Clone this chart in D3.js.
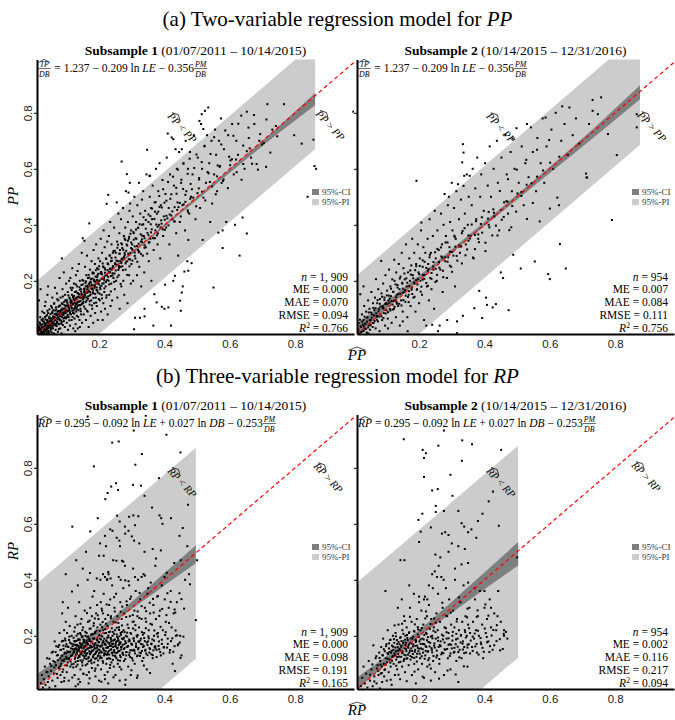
<!DOCTYPE html>
<html>
<head>
<meta charset="utf-8">
<script src="https://cdn.jsdelivr.net/npm/d3@7"></script>
<style>
body { margin: 0; background: #fff; }
svg { display: block; font-family: "Liberation Serif", "Times New Roman", serif; }
svg text { white-space: pre; }
</style>
</head>
<body>
<script>

var ppSub1 = [
[0.012,0.015],[0.015,0.04],[0.018,0.022],[0.02,0.07],[0.022,0.012],[0.024,0.035],[0.026,0.09],[0.028,0.018],[0.03,0.055],[0.031,0.028],[0.033,0.012],[0.034,0.11],[0.035,0.045],[0.037,0.02],[0.038,0.075],[0.039,0.032],[0.04,0.014],[0.041,0.06],[0.042,0.15],[0.043,0.038],[0.044,0.085],[0.045,0.022],[0.046,0.05],[0.047,0.012],[0.048,0.098],[0.049,0.033],[0.016,0.13],[0.021,0.17],[0.029,0.065],[0.036,0.125],[0.044,0.18],[0.027,0.045],[0.019,0.028],[0.041,0.025],[0.032,0.085],
[0.051,0.02],[0.052,0.065],[0.053,0.11],[0.054,0.04],[0.055,0.015],[0.056,0.085],[0.057,0.14],[0.058,0.05],[0.059,0.03],[0.06,0.095],[0.061,0.07],[0.062,0.012],[0.063,0.12],[0.064,0.045],[0.065,0.175],[0.066,0.06],[0.067,0.025],[0.068,0.105],[0.069,0.08],[0.07,0.038],[0.071,0.155],[0.072,0.055],[0.073,0.09],[0.074,0.018],[0.075,0.13],[0.076,0.068],[0.077,0.045],[0.078,0.11],[0.079,0.21],[0.08,0.075],[0.081,0.03],[0.082,0.14],[0.083,0.095],[0.084,0.058],[0.085,0.012],[0.086,0.12],[0.087,0.08],[0.088,0.17],[0.089,0.042],[0.09,0.1],[0.091,0.065],[0.092,0.23],[0.093,0.125],[0.094,0.085],[0.095,0.035],[0.096,0.15],[0.097,0.07],[0.098,0.11],[0.099,0.19],[0.086,0.28],
[0.101,0.05],[0.102,0.13],[0.103,0.09],[0.104,0.16],[0.105,0.025],[0.106,0.11],[0.107,0.07],[0.108,0.2],[0.109,0.14],[0.11,0.095],[0.111,0.04],[0.112,0.125],[0.113,0.175],[0.114,0.08],[0.115,0.105],[0.116,0.06],[0.117,0.15],[0.118,0.245],[0.119,0.115],[0.12,0.085],[0.121,0.03],[0.122,0.135],[0.123,0.19],[0.124,0.1],[0.125,0.065],[0.126,0.16],[0.127,0.12],[0.128,0.045],[0.129,0.22],[0.13,0.09],[0.131,0.14],[0.132,0.075],[0.133,0.18],[0.134,0.11],[0.135,0.03],[0.136,0.155],[0.137,0.095],[0.138,0.26],[0.139,0.125],[0.14,0.06],[0.141,0.2],[0.142,0.14],[0.143,0.1],[0.144,0.17],[0.145,0.08],[0.146,0.115],[0.147,0.3],[0.148,0.05],[0.149,0.15],[0.112,0.21],[0.127,0.02],[0.134,0.235],[0.141,0.035],[0.119,0.175],[0.146,0.185],
[0.151,0.12],[0.152,0.2],[0.153,0.08],[0.154,0.16],[0.155,0.343],[0.156,0.14],[0.157,0.25],[0.158,0.1],[0.159,0.18],[0.16,0.06],[0.161,0.22],[0.162,0.13],[0.163,0.29],[0.164,0.17],[0.165,0.09],[0.166,0.21],[0.167,0.145],[0.168,0.035],[0.169,0.19],[0.17,0.405],[0.171,0.115],[0.172,0.24],[0.173,0.16],[0.174,0.075],[0.175,0.205],[0.176,0.13],[0.177,0.27],[0.178,0.185],[0.179,0.1],[0.18,0.23],[0.181,0.155],[0.182,0.05],[0.183,0.31],[0.184,0.2],[0.185,0.12],[0.186,0.175],[0.187,0.26],[0.188,0.085],[0.189,0.215],[0.19,0.14],[0.191,0.33],[0.192,0.19],[0.193,0.11],[0.194,0.245],[0.195,0.165],[0.196,0.06],[0.197,0.225],[0.198,0.28],[0.199,0.135],[0.15,0.352],
[0.201,0.2],[0.202,0.13],[0.203,0.27],[0.204,0.17],[0.205,0.35],[0.206,0.09],[0.207,0.23],[0.208,0.15],[0.209,0.3],[0.21,0.19],[0.211,0.06],[0.212,0.25],[0.213,0.12],[0.214,0.38],[0.215,0.21],[0.216,0.16],[0.217,0.32],[0.218,0.1],[0.219,0.24],[0.22,0.18],[0.221,0.28],[0.222,0.14],[0.223,0.475],[0.224,0.22],[0.225,0.34],[0.226,0.08],[0.227,0.26],[0.228,0.507],[0.229,0.2],[0.23,0.36],[0.231,0.15],[0.232,0.29],[0.233,0.23],[0.234,0.41],[0.235,0.11],[0.236,0.27],[0.237,0.19],[0.238,0.33],[0.239,0.24],[0.24,0.13],[0.242,0.3],[0.244,0.21],[0.246,0.39],[0.248,0.17],[0.249,0.26],
[0.251,0.3],[0.252,0.2],[0.254,0.48],[0.255,0.34],[0.256,0.14],[0.258,0.27],[0.259,0.44],[0.26,0.22],[0.262,0.37],[0.263,0.1],[0.264,0.31],[0.266,0.25],[0.267,0.42],[0.268,0.18],[0.269,0.626],[0.27,0.33],[0.272,0.28],[0.273,0.46],[0.274,0.2],[0.276,0.36],[0.277,0.15],[0.278,0.3],[0.28,0.39],[0.281,0.24],[0.282,0.52],[0.284,0.33],[0.285,0.581],[0.286,0.27],[0.287,0.12],[0.288,0.41],[0.29,0.515],[0.291,0.35],[0.292,0.22],[0.293,0.45],[0.295,0.476],[0.296,0.3],[0.297,0.19],[0.298,0.38],[0.299,0.26],[0.294,0.55],
[0.301,0.33],[0.303,0.43],[0.304,0.2],[0.306,0.37],[0.307,0.027],[0.308,0.5],[0.31,0.068],[0.311,0.28],[0.313,0.41],[0.314,0.35],[0.316,0.22],[0.317,0.47],[0.319,0.31],[0.32,0.39],[0.322,0.55],[0.323,0.25],[0.325,0.068],[0.326,0.44],[0.328,0.34],[0.329,0.18],[0.331,0.49],[0.332,0.4],[0.334,0.29],[0.335,0.52],[0.337,0.36],[0.338,0.23],[0.339,0.1],[0.339,0.073],[0.341,0.45],[0.343,0.32],[0.345,0.58],[0.347,0.668],
[0.351,0.41],[0.352,0.27],[0.354,0.575],[0.355,0.5],[0.356,0.575],[0.357,0.35],[0.359,0.46],[0.36,0.2],[0.362,0.42],[0.364,0.54],[0.366,0.04],[0.367,0.31],[0.369,0.152],[0.37,0.48],[0.372,0.38],[0.374,0.6],[0.376,0.123],[0.377,0.44],[0.379,0.33],[0.381,0.52],[0.383,0.4],[0.385,0.62],[0.387,0.28],[0.389,0.47],[0.392,0.107],[0.394,0.56],[0.396,0.36],[0.398,0.43],
[0.4,0.1],[0.402,0.186],[0.403,0.51],[0.405,0.39],[0.407,0.64],[0.41,0.726],[0.412,0.105],[0.413,0.46],[0.415,0.33],[0.417,0.58],[0.42,0.04],[0.422,0.712],[0.424,0.42],[0.427,0.2],[0.427,0.706],[0.429,0.54],[0.432,0.218],[0.434,0.67],[0.436,0.37],[0.438,0.6],[0.44,0.48],[0.442,0.29],[0.445,0.66],[0.447,0.41],[0.448,0.129],
[0.45,0.093],[0.451,0.55],[0.453,0.158],[0.453,0.67],[0.455,0.47],[0.456,0.18],[0.458,0.62],[0.461,0.233],[0.463,0.38],[0.465,0.7],[0.467,0.52],[0.47,0.27],[0.472,0.6],[0.473,0.236],[0.473,0.346],[0.476,0.44],[0.478,0.66],[0.481,0.5],[0.483,0.263],[0.486,0.58],[0.49,0.72],[0.495,0.42],
[0.502,0.64],[0.505,0.53],[0.507,0.771],[0.509,0.46],[0.512,0.76],[0.514,0.795],[0.515,0.6],[0.517,0.346],[0.519,0.742],[0.522,0.68],[0.524,0.807],[0.527,0.55],[0.53,0.72],[0.534,0.819],[0.537,0.62],[0.54,0.41],[0.544,0.7],[0.546,0.476],
[0.55,0.176],[0.552,0.58],[0.555,0.74],[0.558,0.65],[0.561,0.52],[0.565,0.372],[0.567,0.7],[0.57,0.61],[0.573,0.78],[0.575,0.55],[0.578,0.317],[0.578,0.38],[0.582,0.67],[0.589,0.41],[0.595,0.72],
[0.602,0.63],[0.607,0.76],[0.612,0.58],[0.616,0.4],[0.62,0.7],[0.625,0.65],[0.63,0.29],[0.635,0.79],[0.639,0.426],[0.645,0.6],
[0.652,0.369],[0.652,0.804],[0.658,0.71],[0.665,0.64],[0.675,0.76],[0.682,0.617],[0.69,0.7],[0.711,0.607],[0.715,0.831],[0.73,0.74],[0.766,0.831],[0.797,0.72],
[0.838,0.5],[0.856,0.704],[0.859,0.61],[0.864,0.6],[0.978,0.804],[0.82,0.69],
[0.031,0.033],[0.046,0.053],[0.058,0.052],[0.071,0.078],[0.081,0.092],[0.091,0.083],[0.101,0.112],[0.106,0.093],[0.116,0.127],[0.124,0.133],[0.131,0.117],[0.139,0.152],[0.151,0.143],[0.156,0.172],[0.164,0.158],[0.171,0.183],[0.179,0.172],[0.186,0.198],[0.194,0.203],[0.2,0.187],[0.209,0.223],[0.216,0.202],[0.226,0.238],[0.234,0.243],[0.241,0.227],[0.249,0.263],[0.261,0.252],[0.269,0.278],[0.279,0.293],[0.291,0.277],[0.301,0.313],[0.309,0.323],[0.321,0.302],[0.331,0.348],[0.339,0.327],[0.351,0.363],[0.359,0.373],[0.371,0.352],[0.379,0.393],[0.391,0.404],[0.401,0.382],[0.409,0.423],[0.421,0.433],[0.431,0.412],[0.439,0.453],[0.459,0.473],[0.471,0.452],[0.479,0.493],[0.501,0.513],[0.519,0.497],[0.539,0.553],[0.561,0.573],[0.579,0.557],[0.601,0.613],[0.619,0.633],[0.641,0.617],[0.661,0.673],[0.699,0.687],[0.741,0.753]
];

// the dense core of subsample 1 along the diagonal
var ppSub1Core = [
[0.013,0.028],[0.017,0.011],[0.019,0.047],[0.023,0.019],[0.024,0.061],[0.026,0.033],[0.029,0.013],[0.032,0.052],[0.033,0.024],[0.035,0.071],[0.037,0.041],[0.04,0.029],[0.042,0.093],[0.043,0.054],[0.045,0.017],[0.047,0.066],[0.049,0.043],[0.051,0.081],[0.053,0.027],[0.054,0.058],[0.056,0.104],[0.057,0.036],[0.059,0.073],[0.061,0.049],[0.062,0.118],[0.064,0.082],[0.066,0.041],[0.067,0.067],[0.069,0.097],[0.071,0.053],[0.072,0.134],[0.074,0.076],[0.076,0.092],[0.077,0.028],[0.079,0.063],[0.081,0.112],[0.082,0.087],[0.084,0.047],[0.086,0.071],[0.087,0.101],[0.089,0.144],[0.091,0.078],[0.092,0.056],[0.094,0.113],[0.096,0.091],[0.097,0.131],[0.099,0.066],
[0.101,0.094],[0.103,0.121],[0.104,0.078],[0.106,0.148],[0.108,0.103],[0.109,0.059],[0.111,0.087],[0.113,0.132],[0.114,0.112],[0.116,0.167],[0.118,0.093],[0.119,0.071],[0.121,0.118],[0.123,0.146],[0.124,0.083],[0.126,0.104],[0.128,0.138],[0.129,0.187],[0.131,0.097],[0.133,0.122],[0.134,0.156],[0.136,0.071],[0.138,0.113],[0.139,0.143],[0.141,0.168],[0.143,0.128],[0.144,0.091],[0.146,0.152],[0.148,0.119],[0.149,0.203],
[0.151,0.134],[0.153,0.171],[0.154,0.108],[0.156,0.147],[0.158,0.192],[0.159,0.124],[0.161,0.157],[0.163,0.093],[0.164,0.183],[0.166,0.136],[0.168,0.221],[0.169,0.162],[0.171,0.127],[0.173,0.196],[0.174,0.151],[0.176,0.174],[0.178,0.112],[0.179,0.208],[0.181,0.168],[0.183,0.139],[0.184,0.227],[0.186,0.184],[0.188,0.153],[0.189,0.197],[0.191,0.122],[0.193,0.176],[0.194,0.213],[0.196,0.158],[0.198,0.241],[0.199,0.189],
[0.202,0.154],[0.204,0.226],[0.207,0.182],[0.209,0.137],[0.211,0.207],[0.213,0.251],[0.216,0.173],[0.218,0.229],[0.221,0.196],[0.223,0.148],[0.226,0.262],[0.228,0.214],[0.231,0.187],[0.233,0.243],[0.236,0.162],[0.238,0.282],[0.241,0.219],[0.243,0.253],[0.246,0.196],[0.248,0.307],
[0.251,0.237],[0.253,0.272],[0.256,0.213],[0.258,0.329],[0.261,0.246],[0.263,0.297],[0.266,0.189],[0.268,0.264],[0.271,0.317],[0.273,0.238],[0.276,0.286],[0.278,0.351],[0.281,0.262],[0.283,0.307],[0.286,0.221],[0.288,0.343],[0.291,0.293],[0.293,0.252],[0.296,0.368],[0.298,0.317],
[0.302,0.272],[0.306,0.347],[0.309,0.301],[0.313,0.383],[0.317,0.268],[0.321,0.332],[0.324,0.402],[0.328,0.296],[0.332,0.361],[0.336,0.427],[0.339,0.318],[0.343,0.386],[0.347,0.297],[0.351,0.437],[0.354,0.338],[0.358,0.402],[0.362,0.458],[0.366,0.353],[0.369,0.421],[0.373,0.481],[0.377,0.362],[0.381,0.447],[0.384,0.503],[0.388,0.391],[0.392,0.462],[0.396,0.527],
[0.401,0.418],[0.406,0.486],[0.411,0.553],[0.416,0.437],[0.421,0.509],[0.426,0.572],[0.431,0.463],[0.436,0.532],[0.441,0.597],[0.447,0.478],[0.452,0.561],[0.458,0.618],[0.464,0.507],[0.471,0.582],[0.477,0.636],[0.484,0.527],[0.491,0.603],[0.498,0.651],
[0.506,0.567],[0.514,0.624],[0.523,0.682],[0.532,0.588],[0.541,0.653],[0.552,0.713],[0.563,0.612],[0.574,0.687],[0.586,0.737],[0.598,0.643],[0.611,0.718],[0.626,0.761],[0.641,0.683],[0.657,0.747],[0.674,0.792],[0.693,0.724],[0.712,0.776],
[0.011,0.021],[0.014,0.009],[0.016,0.034],[0.018,0.052],[0.021,0.026],[0.022,0.043],[0.025,0.014],[0.027,0.057],[0.028,0.031],[0.031,0.018],[0.034,0.038],[0.036,0.062],[0.038,0.026],[0.039,0.049],[0.041,0.077],[0.044,0.031],[0.046,0.039],[0.048,0.071],[0.05,0.056],[0.052,0.033],[0.055,0.047],[0.057,0.089],[0.058,0.064],[0.06,0.041],[0.063,0.071],[0.065,0.058],[0.066,0.094],[0.068,0.046],[0.07,0.083],[0.073,0.064],[0.075,0.047],[0.076,0.107],[0.078,0.081],[0.08,0.059],[0.083,0.073],[0.085,0.096],[0.086,0.052],[0.088,0.117],[0.09,0.087],[0.093,0.068],[0.095,0.101],[0.098,0.084],
[0.1,0.127],[0.102,0.071],[0.105,0.112],[0.107,0.093],[0.11,0.137],[0.112,0.081],[0.115,0.121],[0.117,0.102],[0.12,0.142],[0.122,0.094],[0.125,0.131],[0.127,0.111],[0.13,0.162],[0.132,0.104],[0.135,0.143],[0.137,0.126],[0.14,0.177],[0.142,0.113],[0.145,0.161],[0.147,0.138],[0.15,0.187],[0.152,0.126],[0.155,0.164],[0.157,0.151],[0.16,0.198],[0.162,0.141],[0.165,0.178],[0.167,0.163],[0.17,0.211],[0.172,0.148],[0.175,0.193],[0.177,0.171],[0.18,0.226],[0.182,0.159],[0.185,0.204],[0.187,0.181],[0.19,0.238],[0.192,0.167],[0.195,0.219],[0.197,0.194],
[0.2,0.252],[0.203,0.176],[0.206,0.231],[0.208,0.207],[0.211,0.262],[0.214,0.191],[0.217,0.246],[0.219,0.218],[0.222,0.278],[0.225,0.203],[0.228,0.259],[0.23,0.231],[0.233,0.291],[0.236,0.217],[0.239,0.272],[0.241,0.247],[0.244,0.306],[0.247,0.226],[0.25,0.283],[0.253,0.258],[0.256,0.318],[0.259,0.239],[0.262,0.297],[0.265,0.271],[0.268,0.334],[0.271,0.252],[0.274,0.311],[0.277,0.283],[0.28,0.346],[0.283,0.268],[0.286,0.326],[0.289,0.297],[0.292,0.357],[0.295,0.276],[0.298,0.337],
[0.302,0.311],[0.305,0.374],[0.309,0.289],[0.312,0.352],[0.316,0.324],[0.319,0.389],[0.323,0.304],[0.327,0.366],[0.331,0.339],[0.335,0.402],[0.339,0.352],[0.343,0.417],[0.348,0.371],[0.352,0.336],[0.357,0.431],[0.361,0.384],[0.366,0.352],[0.371,0.447],[0.375,0.401],[0.38,0.369],[0.385,0.464],[0.39,0.416],[0.395,0.384],[0.4,0.479],[0.406,0.432],[0.412,0.398],[0.418,0.493],[0.424,0.448],[0.43,0.412],[0.437,0.511],[0.443,0.463],[0.45,0.43],[0.457,0.528],[0.464,0.482],[0.472,0.446],[0.48,0.546],[0.488,0.497],[0.497,0.466],
[0.506,0.562],[0.515,0.518],[0.525,0.487],[0.535,0.584],[0.546,0.537],[0.557,0.509],[0.569,0.607],[0.581,0.562],[0.594,0.531],[0.607,0.634],[0.621,0.588],[0.636,0.561],[0.652,0.663],[0.668,0.618],[0.686,0.597],[0.704,0.692],[0.724,0.658],[0.745,0.716]
];

var ppSub2 = [
[0.012,0.02],[0.015,0.05],[0.018,0.012],[0.02,0.152],[0.022,0.035],[0.025,0.08],[0.027,0.02],[0.03,0.06],[0.032,0.11],[0.034,0.03],[0.036,0.045],[0.038,0.09],[0.04,0.015],[0.042,0.07],[0.044,0.13],[0.046,0.04],[0.048,0.1],[0.05,0.025],[0.052,0.06],[0.054,0.16],[0.056,0.08],[0.058,0.035],[0.059,0.12],[0.03,0.18],[0.045,0.012],
[0.061,0.05],[0.063,0.095],[0.065,0.14],[0.067,0.03],[0.068,0.206],[0.07,0.075],[0.072,0.12],[0.074,0.055],[0.075,0.17],[0.077,0.1],[0.079,0.02],[0.08,0.135],[0.082,0.08],[0.084,0.271],[0.085,0.155],[0.087,0.06],[0.089,0.11],[0.09,0.19],[0.092,0.085],[0.094,0.14],[0.096,0.04],[0.097,0.22],[0.099,0.12],[0.1,0.095],[0.102,0.165],[0.104,0.065],[0.106,0.13],[0.108,0.24],[0.11,0.1],[0.112,0.18],[0.114,0.145],[0.116,0.05],[0.118,0.205],[0.119,0.115],[0.105,0.03],
[0.121,0.16],[0.123,0.1],[0.124,0.275],[0.125,0.2],[0.127,0.13],[0.129,0.07],[0.13,0.23],[0.132,0.15],[0.134,0.185],[0.136,0.11],[0.138,0.26],[0.14,0.17],[0.141,0.04],[0.143,0.215],[0.145,0.13],[0.147,0.3],[0.149,0.19],[0.15,0.09],[0.152,0.245],[0.154,0.16],[0.156,0.205],[0.158,0.125],[0.16,0.33],[0.162,0.18],[0.164,0.07],[0.166,0.23],[0.168,0.15],[0.17,0.28],[0.172,0.2],[0.174,0.11],[0.176,0.255],[0.178,0.175],[0.179,0.35],[0.165,0.02],[0.15,0.055],
[0.181,0.22],[0.183,0.14],[0.185,0.3],[0.187,0.19],[0.189,0.09],[0.191,0.26],[0.192,0.557],[0.194,0.17],[0.196,0.33],[0.198,0.23],[0.2,0.12],[0.202,0.28],[0.204,0.2],[0.206,0.38],[0.207,0.408],[0.209,0.15],[0.211,0.25],[0.213,0.32],[0.215,0.06],[0.217,0.22],[0.219,0.3],[0.222,0.04],[0.224,0.18],[0.226,0.35],[0.228,0.26],[0.23,0.13],[0.232,0.42],[0.234,0.21],[0.236,0.3],[0.238,0.17],[0.24,0.043],[0.242,0.36],[0.244,0.24],[0.246,0.1],[0.248,0.45],
[0.251,0.28],[0.254,0.2],[0.256,0.38],[0.258,0.02],[0.26,0.31],[0.263,0.04],[0.265,0.24],[0.267,0.44],[0.27,0.33],[0.272,0.16],[0.275,0.4],[0.278,0.51],[0.28,0.27],[0.282,0.36],[0.285,0.21],[0.286,0.06],[0.288,0.47],[0.291,0.5],[0.293,0.32],[0.295,0.41],[0.298,0.25],[0.3,0.55],[0.302,0.38],[0.305,0.29],[0.307,0.46],[0.31,0.18],[0.312,0.35],[0.314,0.52],[0.316,0.055],[0.316,0.013],
[0.319,0.545],[0.322,0.42],[0.325,0.3],[0.328,0.49],[0.331,0.37],[0.332,0.623],[0.334,0.075],[0.334,0.688],[0.336,0.539],[0.336,0.658],[0.338,0.575],[0.34,0.44],[0.343,0.33],[0.346,0.58],[0.349,0.4],[0.352,0.5],[0.355,0.575],[0.358,0.36],[0.361,0.47],[0.364,0.6],[0.367,0.28],[0.369,0.102],[0.372,0.53],[0.375,0.42],[0.378,0.64],[0.381,0.35],[0.384,0.164],[0.387,0.5],[0.39,0.58],[0.393,0.067],
[0.398,0.45],[0.402,0.62],[0.405,0.14],[0.408,0.114],[0.41,0.54],[0.413,0.4],[0.416,0.68],[0.42,0.5],[0.425,0.105],[0.428,0.6],[0.43,0.43],[0.435,0.117],[0.438,0.7],[0.441,0.55],[0.445,0.38],[0.45,0.23],[0.452,0.64],[0.457,0.21],[0.46,0.48],[0.464,0.72],[0.468,0.58],[0.472,0.44],[0.474,0.095],[0.476,0.381],[0.48,0.66],[0.484,0.52],[0.486,0.708],[0.488,0.293],[0.492,0.6],[0.498,0.745],
[0.505,0.55],[0.511,0.244],[0.514,0.68],[0.52,0.47],[0.525,0.62],[0.53,0.76],[0.535,0.57],[0.542,0.748],[0.548,0.66],[0.554,0.269],[0.558,0.52],[0.562,0.71],[0.569,0.412],[0.572,0.62],[0.578,0.78],[0.583,0.55],[0.587,0.783],[0.59,0.68],[0.595,0.224],[0.6,0.206],[0.6,0.458],[0.605,0.74],[0.61,0.6],[0.618,0.8],[0.623,0.497],[0.628,0.47],[0.631,0.331],[0.635,0.7],[0.638,0.823],[0.645,0.76],
[0.649,0.244],[0.655,0.65],[0.66,0.819],[0.67,0.72],[0.68,0.78],[0.69,0.69],[0.711,0.583],[0.712,0.569],[0.714,0.569],[0.72,0.76],[0.731,0.846],[0.731,0.807],[0.747,0.795],[0.757,0.855],[0.778,0.724],[0.79,0.417],[0.805,0.649],[0.866,0.795],[0.866,0.748],
[0.031,0.036],[0.051,0.044],[0.071,0.072],[0.091,0.101],[0.109,0.122],[0.131,0.124],[0.151,0.157],[0.169,0.163],[0.191,0.202],[0.211,0.204],[0.229,0.242],[0.251,0.243],[0.271,0.283],[0.289,0.284],[0.311,0.322],[0.329,0.323],[0.351,0.362],[0.371,0.364],[0.389,0.403],[0.411,0.422],[0.429,0.443],[0.451,0.453],[0.471,0.483],[0.501,0.512],[0.529,0.543],[0.561,0.572],[0.601,0.622],[0.629,0.643]
];

var ppSub2Core = [
[0.014,0.026],[0.019,0.061],[0.023,0.017],[0.028,0.043],[0.033,0.072],[0.037,0.028],[0.041,0.054],[0.046,0.087],[0.051,0.041],[0.055,0.068],[0.06,0.103],[0.064,0.057],[0.069,0.084],[0.073,0.131],[0.078,0.072],[0.082,0.108],[0.087,0.143],[0.091,0.067],[0.096,0.117],[0.101,0.148],[0.105,0.088],[0.11,0.137],[0.114,0.172],[0.119,0.097],[0.123,0.128],[0.128,0.187],[0.132,0.118],[0.137,0.153],[0.141,0.208],[0.146,0.112],[0.15,0.172],[0.155,0.226],[0.159,0.147],[0.164,0.193],[0.168,0.124],[0.173,0.237],[0.177,0.168],[0.182,0.209],[0.186,0.143],[0.191,0.252],[0.195,0.187],[0.2,0.224],[0.205,0.161],[0.211,0.273],[0.216,0.207],[0.222,0.246],[0.227,0.182],[0.233,0.293],[0.238,0.228],[0.244,0.267],[0.25,0.196],[0.256,0.314],[0.262,0.247],[0.268,0.287],[0.274,0.213],[0.281,0.337],[0.287,0.268],[0.294,0.304],[0.301,0.232],[0.308,0.361],[0.315,0.289],[0.323,0.327],[0.331,0.262],[0.339,0.388],[0.347,0.312],[0.356,0.351],[0.365,0.283],[0.374,0.413],[0.383,0.338],[0.393,0.372],[0.403,0.306],[0.413,0.446],[0.424,0.362],[0.435,0.397],[0.447,0.521],[0.459,0.428],[0.472,0.563],[0.485,0.467],[0.499,0.597],[0.513,0.503],[0.528,0.632],[0.544,0.548],[0.561,0.668],[0.579,0.594],[0.598,0.703],
[0.016,0.012],[0.021,0.038],[0.026,0.054],[0.031,0.022],[0.035,0.047],[0.04,0.068],[0.044,0.033],[0.049,0.059],[0.053,0.087],[0.058,0.049],[0.062,0.076],[0.067,0.102],[0.071,0.061],[0.076,0.091],[0.08,0.118],[0.085,0.073],[0.089,0.103],[0.094,0.131],[0.098,0.083],[0.103,0.116],[0.107,0.147],[0.112,0.094],[0.116,0.128],[0.121,0.161],[0.125,0.107],[0.13,0.141],[0.134,0.176],[0.139,0.118],[0.143,0.154],[0.148,0.193],[0.152,0.131],[0.157,0.167],[0.161,0.209],[0.166,0.142],[0.17,0.181],[0.175,0.222],[0.179,0.153],[0.184,0.194],[0.188,0.238],[0.193,0.168],[0.197,0.206],[0.202,0.253],[0.207,0.179],[0.212,0.221],[0.217,0.268],[0.222,0.192],[0.227,0.236],[0.232,0.284],[0.238,0.207],[0.243,0.251],[0.249,0.302],[0.255,0.221],[0.261,0.267],[0.267,0.319],[0.273,0.236],[0.28,0.284],[0.287,0.337],[0.294,0.254],[0.301,0.303],[0.309,0.357],[0.317,0.272],[0.325,0.322],[0.333,0.378],[0.342,0.291],[0.351,0.343],[0.361,0.401],[0.371,0.313],[0.381,0.366],[0.392,0.427],[0.403,0.336],[0.415,0.391],[0.427,0.455],[0.44,0.362],[0.453,0.418],[0.467,0.484],[0.482,0.391],[0.497,0.447],[0.513,0.517],[0.53,0.421],[0.548,0.478]
];

var rpSub1 = [
[0.022,0.03],[0.025,0.06],[0.028,0.015],[0.031,0.045],[0.034,0.09],[0.036,0.025],[0.039,0.07],[0.041,0.12],[0.043,0.035],[0.046,0.055],[0.048,0.015],[0.05,0.1],[0.053,0.075],[0.055,0.14],[0.057,0.04],[0.06,0.11],[0.062,0.065],[0.064,0.18],[0.066,0.02],[0.068,0.095],[0.071,0.13],[0.073,0.05],[0.075,0.16],[0.077,0.085],[0.079,0.21],
[0.081,0.12],[0.082,0.06],[0.083,0.15],[0.084,0.1],[0.085,0.035],[0.086,0.18],[0.087,0.28],[0.088,0.13],[0.089,0.32],[0.09,0.08],[0.091,0.165],[0.092,0.11],[0.093,0.22],[0.094,0.05],[0.095,0.14],[0.096,0.19],[0.097,0.095],[0.098,0.25],[0.099,0.125],[0.1,0.17],[0.101,0.07],[0.102,0.21],[0.103,0.145],[0.104,0.105],[0.105,0.3],[0.106,0.16],[0.107,0.04],[0.108,0.185],[0.109,0.12],[0.11,0.235],[0.112,0.09],[0.114,0.155],[0.116,0.2],[0.117,0.358],[0.118,0.13],
[0.121,0.17],[0.122,0.1],[0.123,0.145],[0.124,0.215],[0.125,0.06],[0.126,0.18],[0.127,0.125],[0.128,0.27],[0.129,0.155],[0.13,0.09],[0.131,0.2],[0.132,0.135],[0.133,0.165],[0.134,0.24],[0.135,0.11],[0.136,0.185],[0.137,0.045],[0.138,0.15],[0.139,0.32],[0.14,0.125],[0.141,0.175],[0.142,0.21],[0.143,0.08],[0.144,0.16],[0.145,0.14],[0.146,0.26],[0.147,0.195],[0.148,0.105],[0.149,0.17],[0.15,0.13],[0.151,0.23],[0.152,0.065],[0.153,0.155],[0.154,0.185],[0.155,0.12],[0.156,0.29],[0.157,0.145],[0.158,0.2],[0.159,0.095],[0.16,0.165],[0.128,0.02],[0.142,0.035],[0.135,0.38],[0.149,0.22],[0.126,0.23],
[0.161,0.135],[0.162,0.21],[0.163,0.175],[0.164,0.1],[0.165,0.155],[0.166,0.25],[0.167,0.12],[0.168,0.19],[0.169,0.07],[0.17,0.145],[0.171,0.225],[0.172,0.165],[0.173,0.3],[0.174,0.11],[0.175,0.18],[0.176,0.14],[0.177,0.205],[0.178,0.085],[0.179,0.16],[0.18,0.34],[0.181,0.125],[0.182,0.19],[0.183,0.15],[0.184,0.245],[0.185,0.105],[0.186,0.17],[0.187,0.135],[0.188,0.21],[0.189,0.055],[0.19,0.155],[0.191,0.28],[0.192,0.12],[0.193,0.185],[0.194,0.145],[0.195,0.23],[0.196,0.095],[0.197,0.165],[0.198,0.13],[0.199,0.2],[0.2,0.04],[0.165,0.4],[0.172,0.424],[0.185,0.36],[0.178,0.27],[0.194,0.31],[0.168,0.03],[0.187,0.075],[0.162,0.06],[0.198,0.26],[0.176,0.115],
[0.201,0.15],[0.202,0.19],[0.203,0.12],[0.204,0.24],[0.205,0.165],[0.206,0.08],[0.207,0.2],[0.208,0.14],[0.209,0.29],[0.21,0.175],[0.211,0.11],[0.212,0.22],[0.213,0.155],[0.214,0.35],[0.215,0.13],[0.216,0.19],[0.217,0.06],[0.218,0.17],[0.219,0.26],[0.22,0.145],[0.221,0.21],[0.222,0.1],[0.223,0.18],[0.224,0.4],[0.225,0.135],[0.226,0.235],[0.227,0.16],[0.228,0.03],[0.229,0.195],[0.23,0.12],[0.231,0.31],[0.232,0.17],[0.233,0.085],[0.234,0.215],[0.235,0.15],[0.236,0.27],[0.237,0.18],[0.238,0.105],[0.239,0.14],[0.24,0.38],[0.205,0.32],[0.218,0.045],[0.229,0.42],[0.212,0.28],[0.234,0.33],
[0.241,0.2],[0.242,0.13],[0.243,0.16],[0.244,0.25],[0.245,0.09],[0.246,0.185],[0.247,0.3],[0.248,0.14],[0.249,0.22],[0.25,0.06],[0.251,0.17],[0.252,0.35],[0.253,0.12],[0.254,0.205],[0.255,0.155],[0.256,0.27],[0.257,0.1],[0.258,0.19],[0.259,0.145],[0.26,0.41],[0.261,0.23],[0.262,0.175],[0.263,0.04],[0.264,0.13],[0.265,0.32],[0.266,0.21],[0.267,0.16],[0.268,0.08],[0.269,0.26],[0.27,0.19],[0.272,0.14],[0.274,0.37],[0.275,0.22],[0.276,0.11],[0.277,0.28],[0.278,0.17],[0.279,0.45],[0.28,0.025],
[0.282,0.2],[0.283,0.13],[0.285,0.31],[0.286,0.16],[0.287,0.24],[0.289,0.09],[0.29,0.18],[0.292,0.38],[0.293,0.14],[0.294,0.27],[0.296,0.21],[0.297,0.06],[0.298,0.34],[0.3,0.17],[0.301,0.12],[0.303,0.25],[0.304,0.44],[0.305,0.19],[0.307,0.15],[0.308,0.29],[0.309,0.1],[0.311,0.22],[0.312,0.36],[0.313,0.16],[0.315,0.2],[0.316,0.05],[0.317,0.27],[0.318,0.13],[0.319,0.4],[0.32,0.18],
[0.322,0.23],[0.324,0.14],[0.326,0.33],[0.328,0.19],[0.33,0.26],[0.332,0.11],[0.334,0.16],[0.336,0.42],[0.338,0.21],[0.34,0.3],[0.342,0.15],[0.344,0.25],[0.346,0.08],[0.348,0.35],[0.35,0.18],[0.352,0.22],[0.354,0.14],[0.356,0.28],[0.358,0.39],[0.36,0.17],[0.362,0.24],[0.364,0.12],[0.366,0.31],[0.368,0.2],[0.37,0.16],[0.372,0.45],[0.374,0.26],[0.376,0.15],[0.378,0.34],[0.38,0.21],
[0.383,0.18],[0.386,0.29],[0.389,0.13],[0.392,0.38],[0.395,0.22],[0.398,0.16],[0.401,0.33],[0.404,0.25],[0.407,0.425],[0.41,0.19],[0.413,0.3],[0.416,0.14],[0.419,0.36],[0.422,0.23],[0.425,0.1],[0.428,0.28],[0.432,0.074],[0.435,0.2],[0.438,0.32],[0.442,0.17],[0.446,0.557],[0.448,0.2],[0.452,0.13],[0.456,0.585],[0.463,0.4],[0.475,0.42],[0.478,0.384],[0.496,0.256],
[0.165,0.983],[0.343,0.986],[0.306,0.933],[0.406,0.918],[0.24,0.89],[0.26,0.894],[0.331,0.849],[0.449,0.855],[0.184,0.805],[0.311,0.811],[0.383,0.763],[0.252,0.745],[0.237,0.733],[0.258,0.721],[0.304,0.739],[0.328,0.736],[0.226,0.71],[0.219,0.688],[0.339,0.7],[0.472,0.668],[0.362,0.658],[0.196,0.62],[0.255,0.629],[0.263,0.608],[0.292,0.625],[0.305,0.63],[0.32,0.627],[0.39,0.62],[0.394,0.6],[0.42,0.62],[0.173,0.573],[0.385,0.63],
[0.279,0.59],[0.29,0.575],[0.31,0.595],[0.234,0.58],[0.241,0.575],[0.218,0.557],[0.254,0.55],[0.262,0.54],[0.28,0.565],[0.3,0.555],[0.203,0.53],[0.221,0.52],[0.264,0.52],[0.2,0.486],[0.214,0.486],[0.339,0.5],[0.364,0.51],[0.389,0.505],[0.374,0.476],[0.307,0.54],[0.323,0.53],[0.243,0.47],[0.253,0.468],[0.27,0.468],[0.274,0.465],[0.193,0.405],[0.204,0.4],[0.218,0.41],[0.225,0.402],[0.235,0.405],[0.212,0.42],[0.228,0.428],[0.266,0.4],[0.28,0.398],[0.29,0.395],[0.31,0.41],[0.34,0.415],[0.33,0.41],[0.118,0.59],[0.098,0.42],[0.13,0.47],[0.15,0.44],[0.16,0.5],[0.5,0.47],[0.47,0.52],[0.43,0.46],[0.45,0.47],[0.35,0.37],[0.4,0.41]
];

var rpSub1Core = [
[0.063,0.087],[0.067,0.142],[0.071,0.064],[0.074,0.113],[0.078,0.167],[0.082,0.092],[0.085,0.128],[0.088,0.071],[0.091,0.153],[0.094,0.117],[0.097,0.183],[0.099,0.138],[0.102,0.094],[0.104,0.162],[0.107,0.121],[0.109,0.197],[0.111,0.143],[0.113,0.108],[0.115,0.172],[0.117,0.131],[0.119,0.153],[0.121,0.087],[0.122,0.193],[0.124,0.141],[0.126,0.118],[0.127,0.167],[0.129,0.132],[0.131,0.182],[0.132,0.151],[0.134,0.097],[0.135,0.207],[0.137,0.163],[0.138,0.128],[0.14,0.144],[0.141,0.186],[0.143,0.112],[0.144,0.171],[0.146,0.136],[0.147,0.157],[0.149,0.094],[0.15,0.198],
[0.152,0.143],[0.153,0.178],[0.155,0.127],[0.156,0.162],[0.158,0.214],[0.159,0.149],[0.161,0.117],[0.162,0.183],[0.164,0.138],[0.165,0.169],[0.167,0.198],[0.168,0.124],[0.17,0.157],[0.171,0.187],[0.173,0.141],[0.174,0.226],[0.176,0.163],[0.177,0.102],[0.179,0.179],[0.18,0.146],[0.182,0.207],[0.183,0.131],[0.185,0.164],[0.186,0.191],[0.188,0.118],[0.189,0.174],[0.191,0.143],[0.192,0.219],[0.194,0.158],[0.195,0.183],[0.197,0.112],[0.198,0.176],[0.2,0.138],
[0.201,0.204],[0.203,0.162],[0.204,0.127],[0.206,0.187],[0.207,0.143],[0.209,0.231],[0.21,0.166],[0.212,0.104],[0.213,0.182],[0.215,0.148],[0.216,0.209],[0.218,0.134],[0.219,0.171],[0.221,0.243],[0.222,0.157],[0.224,0.118],[0.225,0.193],[0.227,0.141],[0.228,0.176],[0.23,0.213],[0.231,0.133],[0.233,0.164],[0.234,0.096],[0.236,0.187],[0.237,0.152],[0.239,0.227],[0.24,0.171],[0.242,0.114],[0.243,0.183],[0.245,0.144],[0.246,0.207],[0.248,0.163],[0.249,0.129],
[0.251,0.248],[0.252,0.178],[0.254,0.139],[0.255,0.196],[0.257,0.157],[0.258,0.113],[0.26,0.183],[0.261,0.221],[0.263,0.147],[0.264,0.172],[0.266,0.124],[0.267,0.204],[0.269,0.161],[0.27,0.237],[0.272,0.136],[0.274,0.188],[0.276,0.153],[0.278,0.213],[0.28,0.117],[0.282,0.174],[0.284,0.142],[0.286,0.197],[0.288,0.163],[0.29,0.228],[0.292,0.131],[0.294,0.183],[0.296,0.149],[0.298,0.207],
[0.301,0.168],[0.303,0.112],[0.306,0.191],[0.308,0.146],[0.311,0.238],[0.313,0.172],[0.316,0.127],[0.318,0.203],[0.321,0.157],[0.323,0.264],[0.326,0.183],[0.328,0.138],[0.331,0.213],[0.333,0.169],[0.336,0.121],[0.338,0.192],[0.341,0.147],[0.343,0.227],[0.346,0.176],[0.348,0.131],[0.351,0.198],[0.354,0.156],[0.357,0.243],[0.36,0.134],[0.363,0.187],[0.366,0.148],[0.369,0.219],[0.372,0.163],[0.376,0.124],[0.38,0.197],[0.384,0.152],[0.388,0.232],[0.392,0.171],[0.397,0.137],[0.402,0.203],[0.408,0.158],[0.414,0.246],[0.42,0.181],[0.427,0.143],[0.434,0.219],[0.441,0.166],[0.449,0.121],[0.458,0.197],
[0.093,0.038],[0.118,0.051],[0.136,0.027],[0.152,0.064],[0.171,0.048],[0.189,0.083],[0.207,0.036],[0.226,0.071],[0.244,0.052],[0.263,0.089],[0.281,0.043],[0.299,0.077],[0.318,0.058],[0.337,0.094],[0.356,0.067],
[0.143,0.243],[0.163,0.281],[0.187,0.262],[0.208,0.297],[0.227,0.274],[0.246,0.338],[0.266,0.286],[0.284,0.323],[0.303,0.274],[0.324,0.353],[0.344,0.288],[0.365,0.332],[0.384,0.271],[0.409,0.352],[0.431,0.294],[0.452,0.331],
[0.105,0.142],[0.108,0.116],[0.111,0.176],[0.114,0.128],[0.116,0.098],[0.119,0.163],[0.121,0.139],[0.124,0.181],[0.126,0.152],[0.128,0.107],[0.131,0.168],[0.133,0.143],[0.135,0.121],[0.137,0.189],[0.139,0.157],[0.142,0.133],[0.144,0.204],[0.146,0.167],[0.148,0.146],[0.15,0.112],[0.152,0.187],[0.154,0.161],[0.156,0.138],[0.158,0.176],[0.16,0.129],[0.162,0.197],[0.164,0.153],[0.166,0.171],[0.168,0.109],[0.17,0.181],[0.172,0.134],[0.174,0.158],[0.176,0.204],[0.178,0.147],[0.18,0.172],[0.182,0.123],[0.184,0.189],[0.186,0.156],[0.188,0.214],[0.19,0.138],[0.192,0.166],[0.194,0.193],[0.196,0.127],[0.198,0.151],[0.2,0.178],
[0.202,0.217],[0.204,0.144],[0.206,0.162],[0.208,0.121],[0.21,0.197],[0.212,0.154],[0.214,0.176],[0.216,0.138],[0.218,0.223],[0.22,0.167],[0.222,0.184],[0.224,0.132],[0.226,0.157],[0.228,0.201],[0.23,0.146],[0.232,0.174],[0.234,0.118],[0.236,0.192],[0.238,0.163],[0.24,0.138],[0.242,0.214],[0.244,0.172],[0.246,0.149],[0.248,0.187],[0.25,0.126],[0.252,0.161],[0.254,0.229],[0.256,0.182],[0.258,0.143],[0.26,0.167],[0.262,0.198],[0.264,0.111],[0.266,0.177],[0.268,0.152],[0.27,0.214],[0.272,0.168],[0.274,0.132],[0.276,0.193],[0.278,0.157],[0.28,0.181],
[0.283,0.142],[0.286,0.211],[0.289,0.163],[0.292,0.187],[0.295,0.124],[0.298,0.172],[0.301,0.148],[0.304,0.226],[0.307,0.181],[0.31,0.137],[0.313,0.163],[0.316,0.197],[0.319,0.152],[0.322,0.178],[0.325,0.128],[0.328,0.171],[0.331,0.146],[0.334,0.204],[0.337,0.163],[0.34,0.181],[0.344,0.137],[0.348,0.167],[0.352,0.191],[0.356,0.153],[0.36,0.172],[0.364,0.131],[0.368,0.183],[0.372,0.156],[0.377,0.207],[0.382,0.164],[0.387,0.142],[0.392,0.186],[0.398,0.158],[0.404,0.213],[0.41,0.171],[0.417,0.149],[0.424,0.191],[0.431,0.163],[0.439,0.202],[0.447,0.176],
[0.042,0.071],[0.048,0.118],[0.054,0.092],[0.059,0.143],[0.065,0.106],[0.069,0.163],[0.074,0.131],[0.078,0.087],[0.082,0.149],[0.086,0.112],[0.09,0.182],[0.094,0.136],[0.098,0.162],[0.102,0.118],
[0.171,0.254],[0.183,0.236],[0.196,0.273],[0.211,0.249],[0.223,0.312],[0.236,0.263],[0.248,0.287],[0.259,0.246],[0.271,0.304],[0.283,0.267],[0.295,0.332],[0.306,0.251],[0.318,0.287],[0.33,0.306],[0.342,0.262],[0.355,0.318],[0.367,0.283],[0.38,0.342],[0.393,0.296],[0.406,0.274],[0.419,0.321],[0.433,0.283],[0.446,0.352],[0.46,0.297]
];

var rpSub2 = [
[0.022,0.02],[0.026,0.05],[0.03,0.09],[0.034,0.03],[0.038,0.065],[0.042,0.015],[0.046,0.11],[0.05,0.04],[0.054,0.08],[0.058,0.02],[0.06,0.166],[0.063,0.055],[0.067,0.12],[0.07,0.03],[0.073,0.095],[0.076,0.06],[0.078,0.14],[0.08,0.012],
[0.081,0.11],[0.083,0.065],[0.084,0.16],[0.086,0.09],[0.087,0.035],[0.089,0.13],[0.09,0.19],[0.092,0.1],[0.093,0.055],[0.095,0.145],[0.096,0.08],[0.097,0.36],[0.098,0.12],[0.1,0.17],[0.101,0.04],[0.102,0.105],[0.104,0.22],[0.105,0.135],[0.107,0.07],[0.108,0.155],[0.11,0.115],[0.111,0.185],[0.113,0.09],[0.114,0.14],[0.116,0.025],[0.117,0.165],[0.118,0.125],[0.12,0.2],
[0.121,0.15],[0.122,0.1],[0.124,0.175],[0.125,0.13],[0.126,0.06],[0.128,0.21],[0.129,0.145],[0.13,0.115],[0.132,0.185],[0.133,0.08],[0.134,0.16],[0.136,0.135],[0.137,0.24],[0.138,0.105],[0.14,0.17],[0.141,0.15],[0.142,0.045],[0.144,0.195],[0.145,0.125],[0.146,0.165],[0.148,0.09],[0.149,0.22],[0.15,0.14],[0.152,0.18],[0.153,0.11],[0.154,0.27],[0.156,0.155],[0.157,0.07],[0.158,0.2],[0.159,0.13],[0.16,0.175],[0.143,0.47],[0.155,0.47],[0.135,0.3],[0.147,0.33],
[0.161,0.145],[0.162,0.23],[0.164,0.12],[0.165,0.185],[0.166,0.16],[0.168,0.095],[0.169,0.21],[0.17,0.14],[0.172,0.3],[0.173,0.175],[0.174,0.115],[0.176,0.155],[0.177,0.25],[0.178,0.06],[0.18,0.19],[0.181,0.135],[0.182,0.17],[0.184,0.35],[0.185,0.1],[0.186,0.215],[0.188,0.15],[0.189,0.185],[0.19,0.03],[0.192,0.125],[0.193,0.26],[0.194,0.165],[0.196,0.205],[0.197,0.08],[0.198,0.145],[0.2,0.32],[0.17,0.38],[0.198,0.614],[0.21,0.636],[0.205,0.572],[0.2,0.535],
[0.201,0.18],[0.203,0.12],[0.204,0.22],[0.206,0.155],[0.207,0.29],[0.209,0.1],[0.21,0.19],[0.212,0.14],[0.213,0.24],[0.215,0.05],[0.216,0.17],[0.218,0.34],[0.219,0.13],[0.221,0.21],[0.222,0.16],[0.224,0.27],[0.225,0.09],[0.227,0.195],[0.228,0.145],[0.23,0.31],[0.231,0.12],[0.233,0.225],[0.234,0.175],[0.236,0.04],[0.237,0.26],[0.239,0.15],[0.24,0.2],[0.242,0.37],[0.243,0.11],[0.245,0.23],[0.246,0.165],[0.248,0.43],[0.249,0.07],[0.236,0.587],[0.24,0.719],
[0.251,0.19],[0.253,0.28],[0.255,0.13],[0.257,0.22],[0.258,0.35],[0.26,0.16],[0.262,0.1],[0.264,0.25],[0.266,0.18],[0.268,0.41],[0.27,0.14],[0.272,0.3],[0.274,0.2],[0.276,0.06],[0.278,0.23],[0.28,0.15],[0.282,0.37],[0.284,0.19],[0.286,0.27],[0.288,0.12],[0.29,0.21],[0.292,0.33],[0.294,0.17],[0.296,0.08],[0.298,0.24],[0.3,0.155],[0.27,0.565],[0.28,0.57],[0.29,0.56],[0.26,0.45],
[0.302,0.2],[0.304,0.29],[0.306,0.14],[0.308,0.23],[0.31,0.4],[0.312,0.17],[0.314,0.11],[0.316,0.26],[0.318,0.19],[0.32,0.035],[0.322,0.22],[0.324,0.15],[0.326,0.32],[0.328,0.2],[0.33,0.12],[0.332,0.25],[0.334,0.18],[0.336,0.38],[0.338,0.16],[0.34,0.22],[0.342,0.27],[0.344,0.14],[0.346,0.2],[0.348,0.09],[0.35,0.24],[0.352,0.17],[0.354,0.3],[0.356,0.21],
[0.362,0.16],[0.365,0.25],[0.368,0.19],[0.371,0.33],[0.374,0.22],[0.377,0.14],[0.38,0.27],[0.383,0.2],[0.386,0.36],[0.39,0.17],[0.393,0.24],[0.396,0.12],[0.4,0.3],[0.404,0.21],[0.408,0.26],[0.412,0.18],[0.416,0.33],[0.42,0.23],[0.425,0.15],[0.43,0.28],[0.436,0.22],[0.442,0.36],[0.45,0.25],[0.46,0.2],[0.5,0.48],
[0.276,0.933],[0.153,0.902],[0.332,0.898],[0.362,0.884],[0.259,0.879],[0.211,0.864],[0.221,0.852],[0.215,0.835],[0.451,0.864],[0.331,0.825],[0.296,0.775],[0.215,0.767],[0.257,0.724],[0.302,0.7],[0.426,0.715],[0.413,0.68],[0.251,0.664],[0.276,0.646],[0.32,0.646],[0.394,0.636],[0.251,0.642],[0.33,0.602],[0.338,0.59],[0.444,0.593],[0.38,0.61],[0.36,0.58],[0.35,0.57],[0.375,0.55],[0.3,0.53],[0.32,0.52],[0.34,0.51],[0.25,0.49],[0.265,0.48],[0.29,0.5],[0.31,0.44],[0.33,0.455],[0.35,0.46],[0.24,0.42],[0.255,0.41],[0.275,0.4],[0.23,0.38],[0.35,0.39],[0.37,0.37],[0.4,0.36],[0.442,0.36],[0.42,0.3],[0.44,0.27],[0.46,0.22],[0.2,0.34],[0.215,0.33],[0.225,0.33],[0.47,0.19]
];

var rpSub2Core = [
[0.071,0.083],[0.079,0.121],[0.086,0.067],[0.092,0.152],[0.098,0.097],[0.103,0.138],[0.108,0.173],[0.112,0.104],[0.116,0.147],[0.12,0.127],[0.123,0.188],[0.127,0.158],[0.13,0.093],[0.133,0.171],[0.136,0.147],[0.139,0.126],[0.142,0.193],[0.145,0.161],[0.148,0.138],[0.151,0.174],[0.154,0.117],[0.157,0.186],[0.16,0.152],[0.163,0.203],[0.166,0.133],[0.169,0.168],[0.172,0.147],[0.175,0.191],[0.178,0.124],[0.181,0.162],[0.184,0.217],[0.187,0.143],[0.19,0.178],[0.193,0.108],[0.196,0.157],[0.199,0.196],
[0.202,0.136],[0.205,0.171],[0.208,0.228],[0.211,0.152],[0.214,0.187],[0.217,0.118],[0.22,0.163],[0.223,0.207],[0.226,0.143],[0.229,0.178],[0.232,0.097],[0.235,0.242],[0.238,0.156],[0.241,0.191],[0.244,0.128],[0.247,0.173],[0.25,0.213],[0.254,0.147],[0.258,0.182],[0.262,0.117],[0.266,0.163],[0.27,0.204],[0.274,0.138],[0.278,0.176],[0.282,0.227],[0.286,0.153],[0.29,0.191],[0.294,0.128],[0.298,0.168],
[0.303,0.214],[0.308,0.143],[0.313,0.187],[0.318,0.161],[0.323,0.123],[0.328,0.203],[0.333,0.172],[0.338,0.138],[0.343,0.194],[0.348,0.158],[0.353,0.227],[0.358,0.183],[0.364,0.146],[0.37,0.208],[0.376,0.171],[0.382,0.133],[0.388,0.192],[0.394,0.157],[0.401,0.226],[0.408,0.177],[0.415,0.142],[0.422,0.201],[0.43,0.166],[0.438,0.238],[0.447,0.188],[0.456,0.153],[0.466,0.214],
[0.113,0.043],[0.137,0.061],[0.162,0.038],[0.186,0.072],[0.211,0.054],[0.236,0.083],[0.261,0.047],[0.287,0.076],[0.312,0.062],[0.337,0.091],
[0.148,0.243],[0.172,0.268],[0.196,0.231],[0.221,0.287],[0.246,0.262],[0.271,0.318],[0.297,0.283],[0.322,0.337],[0.348,0.297],[0.376,0.268],[0.403,0.312],
[0.082,0.097],[0.088,0.131],[0.094,0.078],[0.099,0.163],[0.104,0.118],[0.109,0.142],[0.113,0.186],[0.117,0.111],[0.121,0.161],[0.125,0.137],[0.129,0.198],[0.133,0.124],[0.137,0.178],[0.14,0.153],[0.143,0.107],[0.146,0.181],[0.149,0.146],[0.152,0.207],[0.155,0.132],[0.158,0.167],[0.161,0.118],[0.164,0.192],[0.167,0.157],[0.17,0.213],[0.173,0.128],[0.176,0.173],[0.179,0.146],[0.182,0.197],[0.185,0.121],[0.188,0.164],[0.191,0.183],[0.194,0.136],[0.197,0.223],[0.2,0.154],
[0.204,0.187],[0.208,0.127],[0.212,0.171],[0.216,0.203],[0.22,0.146],[0.224,0.184],[0.228,0.113],[0.232,0.162],[0.236,0.197],[0.24,0.141],[0.244,0.218],[0.248,0.158],[0.253,0.123],[0.258,0.194],[0.263,0.167],[0.268,0.134],[0.273,0.187],[0.278,0.152],[0.284,0.213],[0.29,0.168],[0.296,0.137],[0.302,0.183],[0.308,0.157],[0.314,0.207],[0.32,0.142],[0.327,0.176],[0.334,0.151],[0.341,0.213],[0.348,0.168],[0.356,0.137],[0.364,0.197],[0.372,0.162],[0.38,0.218],[0.389,0.176],[0.398,0.143],[0.407,0.196],[0.417,0.163],[0.427,0.221],[0.437,0.181],[0.448,0.148],[0.459,0.207],
[0.05,0.061],[0.057,0.098],[0.063,0.037],[0.069,0.127],[0.075,0.074],[0.125,0.237],[0.156,0.253],[0.187,0.241],[0.219,0.262],[0.251,0.247],[0.283,0.272],[0.315,0.251],[0.347,0.266],[0.379,0.291],[0.412,0.272]
];

// bands: [fitted, lower, upper]
var ppPI1 = [[0.01,-0.18,0.2],[0.861,0.671,1.051]];
var ppPI2 = [[0.01,-0.18,0.22],[0.876,0.686,1.086]];
var rpPI1 = [[0.01,-0.367,0.387],[0.496,0.118,0.872]];
var rpPI2 = [[0.01,-0.368,0.39],[0.503,0.122,0.879]];

var ppCI1 = [[0.01,0.0,0.03],[0.15,0.146,0.158],[0.3,0.294,0.304],[0.45,0.441,0.451],[0.6,0.586,0.6],[0.75,0.728,0.752],[0.861,0.827,0.871]];
var ppCI2 = [[0.01,0.003,0.047],[0.15,0.152,0.172],[0.3,0.299,0.313],[0.45,0.443,0.459],[0.6,0.585,0.607],[0.75,0.727,0.761],[0.876,0.848,0.898]];
var rpCI1 = [[0.01,0.014,0.064],[0.1,0.109,0.137],[0.2,0.207,0.225],[0.3,0.296,0.322],[0.4,0.38,0.424],[0.496,0.459,0.523]];
var rpCI2 = [[0.01,0.007,0.051],[0.1,0.101,0.127],[0.2,0.196,0.22],[0.3,0.282,0.322],[0.4,0.366,0.426],[0.503,0.451,0.535]];

// n, ME, MAE, RMSE, R2
var statsPP1 = ["1, 909", "0.000", "0.070", "0.094", "0.766"];
var statsPP2 = ["954", "0.007", "0.084", "0.111", "0.756"];
var statsRP1 = ["1, 909", "0.000", "0.098", "0.191", "0.165"];
var statsRP2 = ["954", "0.002", "0.116", "0.217", "0.094"];

var xTicks = [0.2, 0.4, 0.6, 0.8];
var yTicks = [0.2, 0.4, 0.6, 0.8];

var svg = d3.select("body").append("svg")
    .attr("width", 675)
    .attr("height", 720);

// draw a wide hat between x0 and x1 above y
function hat(g, x0, x1, y) {
    g.append("path")
        .attr("d", "M" + (x0 + 0.5) + "," + (y + 1) + "L" + ((x0 + x1) / 2) + "," + (y - 2.2) + "L" + (x1 - 0.5) + "," + (y + 1))
        .attr("fill", "none")
        .attr("stroke", "#000")
        .attr("stroke-width", 0.7);
}

// lay out a row of math-ish pieces, returns width
function mathRow(g, x, y, items, fs) {
    var cx = x, txt = null, back = 0;
    items.forEach(function(it) {
        if (it.frac) {
            txt = null;
            var sz = fs * 0.68;
            var num = g.append("text").attr("y", y - fs * 0.42)
                .style("font-size", sz + "px").style("font-style", "italic").text(it.frac[0]);
            var den = g.append("text").attr("y", y + fs * 0.4)
                .style("font-size", sz + "px").style("font-style", "italic").text(it.frac[1]);
            var w = Math.max(num.node().getComputedTextLength(), den.node().getComputedTextLength()) + 2;
            num.attr("x", cx + w / 2).attr("text-anchor", "middle");
            den.attr("x", cx + w / 2).attr("text-anchor", "middle");
            g.append("line")
                .attr("x1", cx).attr("x2", cx + w)
                .attr("y1", y - fs * 0.3).attr("y2", y - fs * 0.3)
                .attr("stroke", "#000").attr("stroke-width", 0.6);
            if (it.hat) hat(g, cx, cx + w, y - fs * 0.42 - sz * 0.72);
            cx += w + 1;
        } else {
            if (!txt) txt = g.append("text").attr("x", cx).attr("y", y).style("font-size", fs + "px");
            var s = txt.append("tspan")
                .style("font-style", it.it ? "italic" : "normal")
                .text(it.t);
            if (back) { s.attr("dy", back); back = 0; }
            var w2 = s.node().getComputedTextLength();
            if (it.hat) hat(g, cx, cx + w2, y - fs * 0.72);
            cx += w2;
            if (it.sup) {
                var sp = txt.append("tspan").attr("dy", -fs * 0.35)
                    .style("font-size", (fs * 0.65) + "px")
                    .text(it.sup);
                cx += sp.node().getComputedTextLength();
                back = fs * 0.35;
            }
        }
    });
    return cx - x;
}

function drawPanel(p) {
    var x = d3.scaleLinear().domain([0.01, 0.98]).range([p.left, p.left + 317]);
    var y = d3.scaleLinear().domain([0.01, 0.99]).range([p.bottom, p.bottom - 274.4]);

    svg.append("defs").append("clipPath")
        .attr("id", "clip" + p.id)
      .append("rect")
        .attr("x", p.left)
        .attr("y", p.bottom - 274.4)
        .attr("width", 317)
        .attr("height", 274.4);

    var plot = svg.append("g").attr("clip-path", "url(#clip" + p.id + ")");

    var band = d3.area()
        .x(function(d) { return x(d[0]); })
        .y0(function(d) { return y(d[1]); })
        .y1(function(d) { return y(d[2]); });

    plot.append("path").datum(p.pi).attr("d", band).attr("fill", "#cccccc");
    plot.append("path").datum(p.ci).attr("d", band.curve(d3.curveMonotoneX)).attr("fill", "#7f7f7f");

    plot.selectAll(".pt")
        .data(p.pts)
      .enter().append("rect")
        .attr("class", "pt")
        .attr("x", function(d) { return x(d[0]) - 1; })
        .attr("y", function(d) { return y(d[1]) - 1; })
        .attr("width", 2)
        .attr("height", 2)
        .attr("fill", "#000");

    plot.append("line")
        .attr("x1", x(0.01)).attr("y1", y(0.01))
        .attr("x2", x(0.99)).attr("y2", y(0.99))
        .attr("stroke", "#ff0000")
        .attr("stroke-width", 1.2)
        .attr("stroke-dasharray", "4,3");

    // axes
    var xa = svg.append("g")
        .attr("transform", "translate(0," + p.bottom + ")")
        .call(d3.axisBottom(x).tickValues(xTicks).tickSize(0).tickSizeOuter(0).tickPadding(6).tickFormat(d3.format(".1f")));
    xa.select(".domain").attr("stroke-width", 2);
    xa.selectAll("text").attr("font-family", null).attr("font-size", null).style("font-size", "11.5px").attr("fill", "#222");

    var ya = svg.append("g")
        .attr("transform", "translate(" + p.left + ",0)")
        .call(d3.axisLeft(y).tickValues(yTicks).tickSize(3).tickSizeOuter(0)
            .tickFormat(p.yLabels ? d3.format(".1f") : function() { return ""; }));
    ya.select(".domain").attr("stroke-width", 2);
    ya.selectAll("text")
        .attr("font-family", null).attr("font-size", null)
        .style("font-size", "11.5px").attr("fill", "#222")
        .attr("x", null).attr("dy", null)
        .attr("text-anchor", "middle")
        .attr("transform", "translate(-5,0) rotate(-90)");

    var cx = p.left + 158.5;

    // panel title
    var t = svg.append("text")
        .attr("x", cx)
        .attr("y", p.bottom - 279)
        .attr("text-anchor", "middle")
        .style("font-size", "13.5px");
    t.append("tspan").style("font-weight", "bold").text("Subsample " + p.sub);
    t.append("tspan").text(" " + p.period);

    // equation
    mathRow(svg.append("g"), p.left + 1, p.bottom - 262, p.eq, 11.5);

    // legend
    var leg = svg.append("g").attr("transform", "translate(" + (p.left + 275) + "," + (p.bottom - 145) + ")");
    [["#7f7f7f", "95%-CI"], ["#cccccc", "95%-PI"]].forEach(function(d, i) {
        leg.append("rect").attr("x", 0).attr("y", i * 10).attr("width", 7).attr("height", 6).attr("fill", d[0]);
        leg.append("text").attr("x", 10).attr("y", i * 10 + 6).style("font-size", "9px").attr("fill", "#333").text(d[1]);
    });

    // fit statistics, right aligned
    var rows = [
        [{t: "n", it: true}, {t: " = " + p.stats[0]}],
        [{t: "ME = " + p.stats[1]}],
        [{t: "MAE = " + p.stats[2]}],
        [{t: "RMSE = " + p.stats[3]}],
        [{t: "R", it: true, sup: "2"}, {t: " = " + p.stats[4]}]
    ];
    rows.forEach(function(r, i) {
        var g = svg.append("g");
        var w = mathRow(g, 0, 0, r, 11.5);
        g.attr("transform", "translate(" + (p.left + 311 - w) + "," + (p.bottom - 53.5 + i * 12.9) + ")");
    });

    // side labels
    [[p.lessPos, " < "], [p.morePos, " > "]].forEach(function(d) {
        var g = svg.append("g").attr("transform", "translate(" + x(d[0][0]) + "," + y(d[0][1]) + ") rotate(47)");
        var inner = g.append("g");
        var w = mathRow(inner, 0, 0, [{t: p.v, it: true, hat: true}, {t: d[1]}, {t: p.v, it: true}], 10.5);
        inner.attr("transform", "translate(" + (-w / 2) + ",3.5)");
    });
}

var eqPP = [{frac: ["TP", "DB"], hat: true}, {t: " = 1.237 − 0.209 ln "}, {t: "LE", it: true}, {t: " − 0.356"}, {frac: ["PM", "DB"]}];
var eqRP = [{t: "RP", it: true, hat: true}, {t: " = 0.295 − 0.092 ln "}, {t: "LE", it: true}, {t: " + 0.027 ln "}, {t: "DB", it: true}, {t: " − 0.253"}, {frac: ["PM", "DB"]}];

drawPanel({id: 1, left: 37, bottom: 334, pts: ppSub1.concat(ppSub1Core), pi: ppPI1, ci: ppCI1, stats: statsPP1, yLabels: true,
    sub: 1, period: "(01/07/2011 – 10/14/2015)", eq: eqPP, v: "PP", lessPos: [0.454, 0.746], morePos: [0.907, 0.754]});
drawPanel({id: 2, left: 357, bottom: 334, pts: ppSub2.concat(ppSub2Core), pi: ppPI2, ci: ppCI2, stats: statsPP2, yLabels: false,
    sub: 2, period: "(10/14/2015 – 12/31/2016)", eq: eqPP, v: "PP", lessPos: [0.45, 0.746], morePos: [0.912, 0.75]});
drawPanel({id: 3, left: 37, bottom: 689, pts: rpSub1.concat(rpSub1Core), pi: rpPI1, ci: rpCI1, stats: statsRP1, yLabels: true,
    sub: 1, period: "(01/07/2011 – 10/14/2015)", eq: eqRP, v: "RP", lessPos: [0.454, 0.747], morePos: [0.901, 0.764]});
drawPanel({id: 4, left: 357, bottom: 689, pts: rpSub2.concat(rpSub2Core), pi: rpPI2, ci: rpCI2, stats: statsRP2, yLabels: false,
    sub: 2, period: "(10/14/2015 – 12/31/2016)", eq: eqRP, v: "RP", lessPos: [0.45, 0.747], morePos: [0.895, 0.768]});

// main titles
[[26, "(a) Two-variable regression model for ", "PP"], [383, "(b) Three-variable regression model for ", "RP"]].forEach(function(d) {
    var t = svg.append("text").attr("x", 337.5).attr("y", d[0]).attr("text-anchor", "middle").style("font-size", "21px");
    t.append("tspan").text(d[1]);
    t.append("tspan").style("font-style", "italic").text(d[2]);
});

// axis titles
[[360, "PP"], [715, "RP"]].forEach(function(d) {
    var g = svg.append("g");
    var w = mathRow(g, 0, 0, [{t: d[1], it: true, hat: true}], 15);
    g.attr("transform", "translate(" + (357 - w / 2) + "," + d[0] + ")");
});
[[196, "PP"], [551, "RP"]].forEach(function(d) {
    svg.append("text")
        .attr("transform", "translate(18," + d[0] + ") rotate(-90)")
        .attr("text-anchor", "middle")
        .style("font-size", "15px")
        .style("font-style", "italic")
        .text(d[1]);
});

</script>
</body>
</html>
